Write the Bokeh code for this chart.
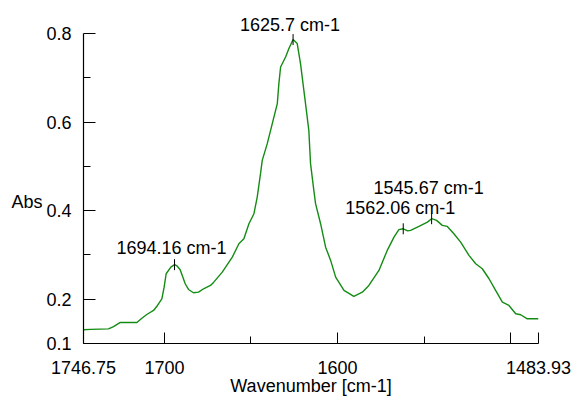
import math
from bokeh.plotting import figure
from bokeh.models import Range1d, FixedTicker, ColumnDataSource, LinearAxis
from bokeh.core.properties import value
from bokeh.embed import file_html
from bokeh.resources import INLINE

# ---- data ----
wavenumber = [1746.75, 1742.7, 1732.3, 1729.4, 1725.5, 1715.9, 1713.2, 1710.2, 1706.3, 1704.0,
              1701.5, 1700.2, 1699.0, 1696.3, 1694.16, 1692.7, 1690.9, 1689.5, 1688.0, 1686.1,
              1683.2, 1680.3, 1677.4, 1673.4, 1671.5, 1666.6, 1660.8, 1657.0, 1654.1, 1651.2,
              1648.3, 1646.4, 1644.5, 1643.5, 1640.6, 1637.7, 1634.8, 1633.9, 1632.9, 1630.0,
              1628.1, 1625.7, 1623.3, 1621.4, 1618.5, 1616.6, 1615.6, 1613.7, 1612.7, 1609.8,
              1606.9, 1604.0, 1601.1, 1596.3, 1590.6, 1585.7, 1581.9, 1576.1, 1571.3, 1567.4,
              1564.6, 1562.06, 1559.5, 1557.8, 1553.0, 1548.1, 1545.67, 1542.8, 1539.5, 1536.6,
              1532.8, 1528.9, 1524.1, 1520.2, 1516.4, 1512.5, 1508.7, 1504.8, 1501.0, 1497.1,
              1494.2, 1490.4, 1484.6, 1483.93]
absorbance = [0.131, 0.132, 0.133, 0.138, 0.1475, 0.1475, 0.1565, 0.1655, 0.1746, 0.1859,
              0.201, 0.2266, 0.2575, 0.2724, 0.278, 0.2751, 0.2666, 0.2514, 0.2349, 0.222,
              0.2146, 0.2159, 0.2236, 0.2311, 0.2385, 0.2611, 0.295, 0.3253, 0.3366, 0.3705,
              0.3931, 0.4306, 0.4835, 0.5136, 0.5513, 0.5965, 0.6417, 0.6869, 0.7244, 0.747,
              0.766, 0.7863, 0.7773, 0.7321, 0.6417, 0.5814, 0.5061, 0.4458, 0.4157, 0.3705,
              0.3176, 0.2876, 0.2498, 0.2198, 0.2062, 0.2159, 0.2311, 0.265, 0.3102, 0.3402,
              0.357, 0.359, 0.3542, 0.3554, 0.3644, 0.3741, 0.3818, 0.378, 0.3667, 0.3644,
              0.3479, 0.3289, 0.2989, 0.2801, 0.2688, 0.2462, 0.2198, 0.1933, 0.1859, 0.1671,
              0.1649, 0.1558, 0.1558, 0.156]

peak_wn = [1694.16, 1625.7, 1562.06, 1545.67]
peak_abs = [0.278, 0.7863, 0.359, 0.3818]
peak_labels = ["1694.16 cm-1", "1625.7 cm-1", "1562.06 cm-1", "1545.67 cm-1"]

x_ticks = [1746.75, 1700, 1600, 1500, 1483.93]
x_tick_labels = ["1746.75", "1700", "1600", "", "1483.93"]
x_minor = [1650, 1550]
y_ticks = [0.1, 0.2, 0.4, 0.6, 0.8]
y_tick_labels = ["0.1", "0.2", "0.4", "0.6", "0.8"]
y_minor = [0.3, 0.5, 0.7]
y_title = "Abs"
x_title = "Wavenumber [cm-1]"

# ---- styles ----
FONT = "Liberation Sans"
FS = "18px"
label_dy = [-17, -15, -21, -31]   # screen offsets of annotation baselines
TOP_PAD_PX = 33                    # free space above the 0.8 end of the y axis
AXIS_SPAN_PX = 310                 # pixel height of the 0.1..0.8 axis
Y_TITLE_AT = 0.42                  # vertical anchor of the y title

y_lo, y_hi = y_ticks[0], y_ticks[-1]
y_top = y_hi + (y_hi - y_lo) * TOP_PAD_PX / AXIS_SPAN_PX

p = figure(width=571, height=398, output_backend="svg", toolbar_location=None, title=None,
           x_range=Range1d(x_ticks[0], x_ticks[-1]), y_range=Range1d(y_lo, y_top),
           min_border_left=83, min_border_right=33, min_border_top=0, min_border_bottom=55)
p.outline_line_color = None
p.grid.visible = False
p.background_fill_color = "white"
p.border_fill_color = "white"

p.line(wavenumber, absorbance, line_color="#148c14", line_width=1.4)

p.scatter(peak_wn, peak_abs, marker="dash", angle=math.pi / 2, size=11,
          line_color="black", line_width=1)

src = ColumnDataSource(dict(x=peak_wn, y=peak_abs, t=peak_labels, dy=label_dy))
p.text(x="x", y="y", text="t", source=src, text_font=value(FONT), text_font_size=FS,
       text_align="center", text_baseline="alphabetic", x_offset=-3, y_offset="dy",
       text_color="black")

xa = p.xaxis[0]
xa.ticker = FixedTicker(ticks=x_ticks, minor_ticks=x_minor)
xa.major_label_overrides = {t: l for t, l in zip(x_ticks, x_tick_labels)}
xa.axis_label = x_title
xa.axis_label_standoff = -1
xa.major_label_standoff = 17

ya = p.yaxis[0]
ya.ticker = FixedTicker(ticks=y_ticks, minor_ticks=y_minor)
ya.major_label_overrides = {t: l for t, l in zip(y_ticks, y_tick_labels)}
ya.major_label_standoff = 12
ya.bounds = (y_lo, y_hi)

for ax in (xa, ya):
    ax.axis_line_color = "black"
    ax.axis_line_width = 1.2
    ax.major_tick_line_color = "black"
    ax.minor_tick_line_color = "black"
    ax.major_tick_in = 11
    ax.major_tick_out = 0
    ax.minor_tick_in = 7
    ax.minor_tick_out = 0
    ax.major_label_text_font = FONT
    ax.major_label_text_font_size = FS
    ax.major_label_text_color = "black"
    ax.axis_label_text_font = FONT
    ax.axis_label_text_font_size = FS
    ax.axis_label_text_font_style = "normal"
    ax.axis_label_text_color = "black"
ya.major_tick_in = 12

# y title drawn as the single label of an extra, invisible left axis
ta = LinearAxis(ticker=FixedTicker(ticks=[Y_TITLE_AT], minor_ticks=[]),
                major_label_overrides={Y_TITLE_AT: y_title},
                axis_line_color=None, major_tick_line_color=None, minor_tick_line_color=None,
                major_label_standoff=-5, major_label_text_font=FONT,
                major_label_text_font_size=FS, major_label_text_color="black")
p.add_layout(ta, "left")

open("out.html", "w").write(file_html(p, INLINE))
